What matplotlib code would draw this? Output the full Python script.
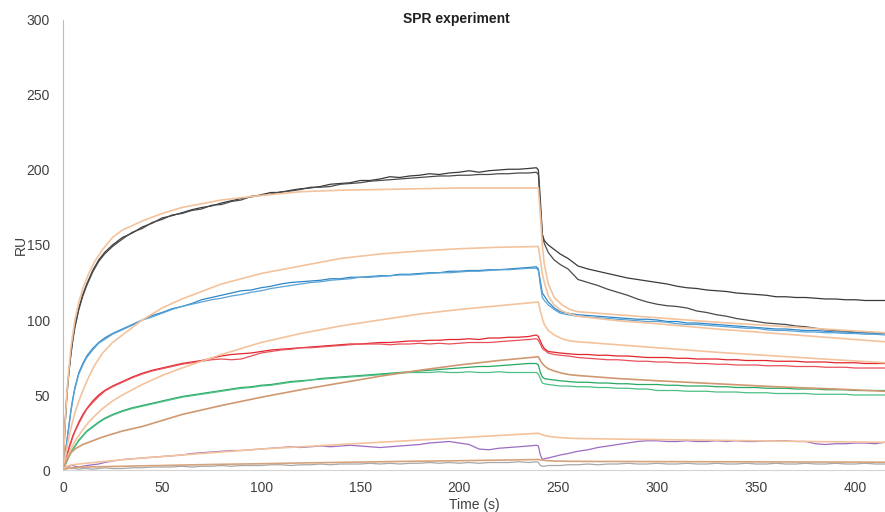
import matplotlib.pyplot as plt

plt.rcParams['font.family'] = ['Liberation Sans', 'DejaVu Sans']

# time grid of the measured traces (s)
t = [0, 1, 2, 3, 4, 5, 6, 8, 10, 12, 15, 18, 21, 25,
     30, 35, 40, 45, 50, 55, 60, 65, 70, 75, 80, 85, 90, 95, 100, 105,
     110, 115, 120, 125, 130, 135, 140, 145, 150, 155, 160, 165, 170, 175,
     180, 185, 190, 195, 200, 205, 210, 215, 220, 225, 230, 235,
     239, 240, 241, 242, 243, 245, 248, 251, 255,
     260, 265, 270, 275, 280, 285, 290, 295, 300, 305, 310, 315, 320, 325,
     330, 335, 340, 345, 350, 355, 360, 365, 370, 375, 380, 385, 390, 395,
     400, 405, 410, 415]

# measured responses (RU), two replicates per concentration
black_a = [0, 30, 52, 66, 78, 88, 96, 108, 117, 124, 133, 140, 145, 150,
           155, 158, 162, 164.5, 168, 169.5, 171.5, 173.5, 175, 176, 178, 179.5, 181, 182, 183.5, 185,
           185, 186.5, 187.5, 188, 189, 190.5, 191, 191.5, 193, 193, 194, 195.5, 195, 196,
           196.5, 197.5, 197, 198, 198.5, 199.5, 198.5, 199.5, 200, 200.5, 200.5, 201,
           201.5, 200, 180, 157, 153, 150, 147, 144, 141,
           136, 134, 132.5, 131, 129.5, 128, 127, 126, 125, 124, 122.5, 121.5, 121, 120,
           119.5, 119, 118, 117.5, 117, 116.5, 115.5, 115.5, 115, 115, 114.5, 114, 114, 113.5,
           113.5, 113, 113, 113]
black_b = [0, 29, 50, 65, 77, 87, 95, 107, 116, 123, 132, 139, 144, 149,
           154, 158.5, 161, 165, 167, 170, 171, 173, 174, 176.5, 177, 179, 180, 182.5, 183, 184,
           185.5, 186, 187, 188.5, 188.5, 189, 190.5, 191, 191.5, 192.5, 193, 193.5, 194, 194.5,
           195, 195.5, 196, 196, 196.5, 196.5, 197, 197, 197.5, 197.5, 198, 198,
           198.5, 197, 175, 157, 151, 145, 140, 137, 134,
           127, 125, 123, 120.5, 118.5, 116.5, 114, 112, 110.5, 109.5, 109, 108, 106, 105,
           103.5, 102.5, 101, 100, 99, 98, 97.5, 97, 96, 95.5, 94.5, 93.5, 93, 92.5,
           92, 91.5, 91.5, 91]
blue_a = [0, 10, 20, 30, 40, 48, 55, 65, 71, 76, 81, 85, 88, 91,
          94, 97, 100, 103, 105, 107.5, 109, 111, 113.5, 115, 116.5, 118, 119.5, 120, 121.5, 122.5,
          124, 125, 125.5, 126, 126.5, 127.5, 127.5, 128.5, 128.5, 129, 129.5, 129.5, 130.5, 130.5,
          131, 131.5, 131.5, 132.5, 132.5, 133, 133, 133.5, 133.5, 134, 134.5, 135,
          135.5, 134, 126, 118, 116, 112, 108, 105.5, 104.5,
          103.5, 103, 102.5, 102, 101.5, 101, 100.5, 100.5, 100, 99, 99, 98, 98, 97.5,
          97, 96.5, 96, 95.5, 95, 94.5, 94, 94, 93.5, 93, 93, 92.5, 92, 92,
          91.5, 91.5, 91, 91]
blue_b = [0, 10, 19, 29, 39, 47, 54, 64, 70, 75, 80, 84.5, 87, 90.5,
          93.5, 96.5, 100, 102, 104.5, 107, 109, 110.5, 112, 113.5, 114.5, 116, 117, 118.5, 119.5, 121,
          122, 123, 124, 125, 125.5, 126.5, 127, 127.5, 128.5, 128.5, 129, 129.5, 130, 130,
          130.5, 131, 131.5, 131.5, 132, 132.5, 132.5, 133, 133.5, 133.5, 134, 134.5,
          134.5, 133, 123, 115, 113, 110, 107, 104.5, 103.5,
          102.5, 102, 101.5, 101, 100.5, 100, 99.5, 99, 99, 98.5, 97.5, 97, 97, 96.5,
          96, 95.5, 95, 94.5, 94.5, 93.5, 93, 93, 92.5, 92, 92, 91.5, 91.5, 91,
          91, 90.5, 90.5, 90]
red_a = [0, 5, 10, 15, 19, 23, 26, 32, 37, 41, 46, 50, 53, 56,
         59, 62, 64.5, 66.5, 68, 69.5, 71, 72, 73, 74.5, 76, 77, 77.5, 78, 79, 80,
         80.5, 81, 81.5, 82, 82.5, 83, 83.5, 84, 84, 84.5, 85, 85, 85.5, 86,
         86, 86.5, 86.5, 87, 87, 87.5, 87, 88, 88, 88.5, 88.5, 89,
         90, 89, 86, 83, 81, 79, 78.5, 78, 77.5,
         77, 77, 76.5, 76.5, 76, 76, 75.5, 75, 75, 75, 74.5, 74.5, 74, 74,
         74, 73.5, 73.5, 73, 73, 73, 72.5, 72.5, 72.5, 72, 72, 72, 71.5, 71.5,
         71.5, 71, 71, 71]
red_b = [0, 5, 9, 14, 18, 22, 25.5, 31, 36, 40.5, 45, 49, 52.5, 55.5,
         58.5, 61.5, 64, 66, 67.5, 69, 70.5, 71.5, 72.5, 73.5, 74, 73.5, 74, 76, 78, 79,
         80, 80.5, 81.5, 81.5, 82, 82.5, 83, 83.5, 84, 84, 84, 83.5, 84, 84,
         84.5, 84, 84.5, 84, 84.5, 85, 85, 85, 85.5, 86, 86.5, 87,
         87.5, 86.5, 84, 81, 80, 78, 77, 76.5, 76,
         75, 74.5, 74, 73.5, 73.5, 73, 72.5, 72.5, 72, 72, 71.5, 71.5, 71, 71,
         70.5, 70.5, 70, 70, 70, 69.5, 69.5, 69.5, 69, 69, 69, 68.5, 68.5, 68.5,
         68, 68, 68, 68]
green_a = [0, 3, 6, 9, 12, 14, 16, 20, 23, 26, 29, 32, 34.5, 37,
           39.5, 41.5, 43, 44.5, 46, 47.5, 49, 50, 51, 52, 53, 54, 55, 55.5, 56.5, 57,
           58, 59, 59.5, 60, 61, 61.5, 62, 62.5, 63, 63.5, 64, 64.5, 65, 65.5,
           66, 66.5, 67, 67.5, 68, 68.5, 69, 69, 69.5, 70, 70.5, 71,
           71, 70, 65, 62, 61, 60.5, 60, 59.5, 59,
           58.5, 58.5, 58, 58, 57.5, 57.5, 57, 57, 57, 56.5, 56.5, 56, 56, 56,
           55.5, 55.5, 55, 55, 55, 54.5, 54.5, 54.5, 54, 54, 54, 53.5, 53.5, 53.5,
           53, 53, 53, 53]
green_b = [0, 3, 6, 9, 11.5, 13.5, 15.5, 19.5, 22.5, 25.5, 28.5, 31.5, 34, 36.5,
           39, 41, 42.5, 44, 45.5, 47, 48.5, 49.5, 50.5, 51.5, 52.5, 53.5, 54.5, 55, 56, 56.5,
           57.5, 58.5, 59, 60, 60.5, 61, 61.5, 62, 62.5, 63, 63.5, 64, 64.5, 65,
           65, 65, 65.5, 65, 65, 65.5, 65, 65, 65.5, 65, 65, 65,
           65, 64, 61, 58, 57.5, 57, 56.5, 56, 56,
           55.5, 55.5, 55, 55, 54.5, 54.5, 54, 54, 53, 53, 53, 52.5, 52.5, 52.5,
           52, 52, 52, 51.5, 51.5, 51.5, 51, 51, 51, 51, 50.5, 50.5, 50.5, 50.5,
           50, 50, 50, 50]
purple = [0, 1, 2, 2.5, 3, 3, 2.5, 2, 2.5, 3, 3.5, 4, 5, 6,
          7, 7.5, 8, 8.5, 9, 9.5, 10, 11, 11.5, 12, 12.5, 13, 13, 13.5, 14, 14.5,
          15, 15.5, 15, 15.5, 16, 15.5, 16, 16.5, 16, 15.5, 15, 15.5, 16, 16.5,
          17, 18, 18.5, 19, 18, 17, 14, 13.5, 14.5, 15, 15.5, 16,
          16.5, 16, 10, 7, 7.5, 8, 9, 10, 11,
          12.5, 13.5, 15, 16, 17, 18, 19, 19.5, 19.5, 19, 19, 19.5, 19, 19,
          19.5, 19, 19.5, 19, 19, 19.5, 19.5, 19.5, 19, 19, 17.5, 17, 17.5, 17.5,
          18, 18, 17.5, 18.5]
grey = [0, 1, 1, 1.5, 1, 1, 1, 0.5, 1, 1, 0.5, 1, 1.5, 1,
        1, 1.5, 1.5, 2, 2, 2, 2.5, 2, 2.5, 2.5, 3, 2.5, 3, 3, 3, 3.5,
        3.5, 3, 3.5, 3.5, 4, 3.5, 4, 4, 4, 4.5, 4, 4.5, 4, 4.5,
        4.5, 5, 4.5, 5, 4.5, 5, 4.5, 5, 5, 5, 5.5, 5,
        5.5, 5, 3, 2.5, 2.5, 3, 3, 3, 3.5,
        3.5, 4, 3.5, 4, 4, 4.5, 4, 4, 4.5, 4, 4, 4.5, 4, 4,
        4.5, 4, 4, 4.5, 4, 4, 4.5, 4, 4, 4.5, 4, 4, 4.5, 4,
        4, 4.5, 4, 4]

# time grid of the fitted curves (s)
tf = [0, 1, 2, 3, 4, 6, 8, 10, 13, 16, 20, 25, 30,
      40, 50, 60, 80, 100, 120, 140, 160, 180, 200, 220, 240,
      241, 242, 243, 245, 248, 252, 256, 260, 270, 280, 300, 330, 360, 390, 415]

fit_black = [0, 30, 52, 68, 82, 100, 112, 121, 131, 139, 147, 155, 160,
             166, 171, 175, 180, 183, 185.5, 186.5, 187, 187.5, 188, 188, 188,
             170, 150, 137, 124, 115, 110, 107, 105.5, 104.5, 103.5, 101.5, 98.5, 96, 93.5, 91.5]
fit_blue = [0, 8, 15, 22, 28, 38, 46, 53, 62, 70, 78, 85, 90,
            100, 108, 114, 124, 131, 136, 141, 144, 146, 147.5, 148.5, 149,
            140, 131, 125, 116, 110, 106, 104, 102.5, 101, 99.5, 97.5, 94, 91, 88, 85.5]
fit_red = [0, 4, 8, 11, 14, 19, 23, 27, 32, 36, 41, 46, 50,
           57, 63, 68, 77, 85, 91, 96, 100, 104, 107, 109.5, 112,
           106, 101, 97, 93, 90, 87.5, 86, 85.5, 84.5, 83.5, 81.5, 78.5, 76, 73.5, 71.5]
fit_green = [0, 4, 7, 9.5, 11.5, 14, 15.5, 17, 18.5, 20, 22, 24, 26,
             29, 33, 37, 43, 48.5, 53.5, 58, 62.5, 66.5, 70, 73, 75.5,
             73, 71, 69.5, 67.5, 66, 64.5, 63.5, 63, 62, 61, 59.5, 57.5, 55.5, 54, 52.5]
fit_purple = [0, 1.5, 2.5, 3, 3.3, 3.7, 4, 4.3, 4.7, 5.1, 5.6, 6.2, 6.8,
              8, 9, 10, 12, 14, 15.5, 17, 18.5, 20, 21.5, 23, 24.5,
              24, 23.5, 23, 22.5, 22, 21.5, 21.2, 21, 20.8, 20.6, 20.3, 19.8, 19.3, 18.8, 18.5]
fit_grey = [0, 0.5, 0.9, 1.2, 1.4, 1.6, 1.8, 1.9, 2.0, 2.1, 2.2, 2.4, 2.5,
            2.8, 3.0, 3.3, 3.8, 4.2, 4.7, 5.1, 5.5, 5.9, 6.2, 6.6, 7.0,
            6.8, 6.6, 6.4, 6.2, 6.0, 5.9, 5.8, 5.8, 5.7, 5.7, 5.6, 5.5, 5.4, 5.3, 5.2]

fig = plt.figure(figsize=(8.85, 5.12), dpi=100)
ax = fig.add_axes([0.0712, 0.082, 0.9288, 0.879])

traces = [(black_a, '#3a3a3a'), (black_b, '#4a4a4a'),
          (blue_a, '#2f86c6'), (blue_b, '#5aa3d6'),
          (red_a, '#e2242c'), (red_b, '#e8505a'),
          (green_a, '#27a862'), (green_b, '#4cbf85'),
          (purple, '#9a6cc2'), (grey, '#a8a8a8')]
for y, c in traces:
    ax.plot(t, y, color=c, lw=0.9)

orange = '#f3c39d'
fits = [(fit_black, orange), (fit_blue, orange), (fit_red, orange),
        (fit_green, '#d09870'), (fit_purple, orange), (fit_grey, '#d4a47e')]
for y, c in fits:
    ax.plot(tf, y, color=c, lw=1.2)

ax.set_xlim(0, 415)
ax.set_ylim(0, 300)
ax.set_xticks(range(0, 401, 50))
ax.set_yticks(range(0, 301, 50))
ax.tick_params(length=0, labelsize=10, labelcolor='#404040')
ax.tick_params(axis='y', pad=9.5)
ax.tick_params(axis='x', pad=8)
for s in ['top', 'right']:
    ax.spines[s].set_visible(False)
ax.spines['left'].set_color('#bdbdbd')
ax.spines['bottom'].set_color('#d4d4d4')

ax.set_ylabel('RU', fontsize=10, color='#404040', labelpad=-1)
ax.set_xlabel('Time (s)', fontsize=10, color='#404040', labelpad=2)
fig.text(0.516, 0.963, 'SPR experiment', ha='center', va='center',
         fontsize=10, fontweight='bold', color='#202020')

fig.savefig('out.png', dpi=100)
